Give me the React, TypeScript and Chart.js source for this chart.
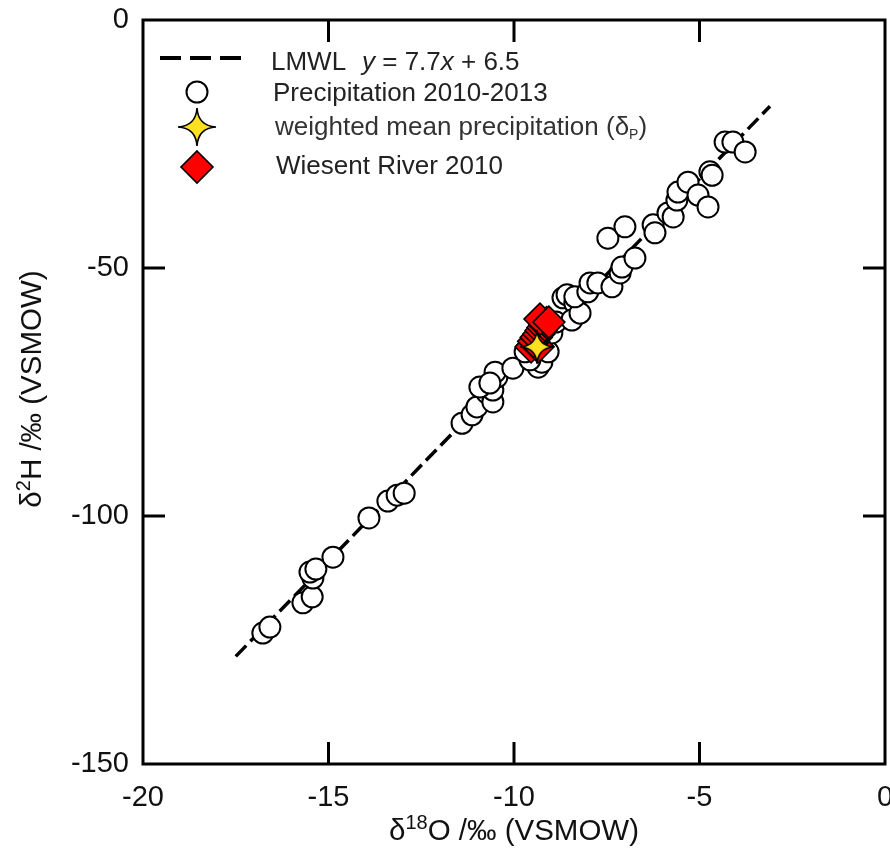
import React, { useEffect, useRef } from 'react';
import { Chart, registerables } from 'chart.js';

Chart.register(...registerables);

const FONT = '"Liberation Sans", Arial, Helvetica, sans-serif';

// Axis ranges / ticks
const xRange = [-20, 0];
const yRange = [-150, 0];
const xStep = 5;
const yStep = 50;

// LMWL  y = 7.7x + 6.5 (end points)
const lmwlX = [-17.5, -3.1];
const lmwlY = [-128.3, -17.4];

// Precipitation 2010-2013
const precipX = [
  -16.77, -16.58, -15.69, -15.44, -15.42, -15.5, -15.34, -14.88, -13.91, -13.4,
  -13.15, -12.96, -11.4, -11.13, -11.0, -10.73, -10.57, -10.57, -10.46, -10.51,
  -10.92, -10.65, -10.03, -9.35, -9.25, -9.57, -9.08, -8.98, -8.87, -8.68,
  -8.57, -8.36, -8.44, -8.22, -8.36, -8.01, -7.95, -7.74, -7.36, -7.14,
  -7.09, -6.74, -7.47, -7.01, -6.25, -6.2, -5.85, -5.71, -5.61, -5.58,
  -5.31, -5.04, -4.77, -4.72, -4.66, -4.31, -4.1, -3.77, -9.16, -9.7,
];
const precipY = [
  -123.6, -122.4, -117.5, -116.3, -112.5, -111.3, -110.7, -108.3, -100.4, -97.0,
  -95.8, -95.4, -81.3, -79.6, -78.0, -75.2, -77.0, -74.6, -72.0, -71.0,
  -74.0, -73.2, -70.2, -70.0, -69.0, -68.5, -66.9, -63.1, -60.9, -56.0,
  -55.4, -57.1, -60.5, -59.1, -55.8, -54.8, -53.0, -53.0, -53.8, -51.0,
  -49.8, -48.0, -44.0, -41.7, -41.3, -42.9, -38.9, -39.7, -36.3, -34.7,
  -32.7, -35.3, -37.7, -30.6, -31.3, -24.6, -24.6, -26.6, -60.5, -66.9,
];

// Wiesent River 2010
const riverX = [-9.54, -9.35, -9.47, -9.4, -9.33, -9.27, -9.22, -9.17, -9.12, -9.3, -9.06];
const riverY = [-65.9, -65.9, -64.8, -64.0, -63.3, -62.6, -62.0, -61.5, -61.0, -60.3, -60.9];

// weighted mean precipitation
const meanX = [-9.38];
const meanY = [-65.9];

function makeStar(size: number): HTMLCanvasElement {
  const c = document.createElement('canvas');
  c.width = size + 4;
  c.height = size + 4;
  const ctx = c.getContext('2d')!;
  const cx = c.width / 2;
  const cy = c.height / 2;
  const R = size / 2;
  const k = 0.06 * R;
  const tips = [
    [cx, cy - R],
    [cx + R, cy],
    [cx, cy + R],
    [cx - R, cy],
  ];
  const ctrl = [
    [cx + k, cy - k],
    [cx + k, cy + k],
    [cx - k, cy + k],
    [cx - k, cy - k],
  ];
  ctx.beginPath();
  ctx.moveTo(tips[0][0], tips[0][1]);
  for (let i = 0; i < 4; i++) {
    const n = tips[(i + 1) % 4];
    ctx.quadraticCurveTo(ctrl[i][0], ctrl[i][1], n[0], n[1]);
  }
  ctx.closePath();
  ctx.fillStyle = '#FFE11F';
  ctx.fill();
  ctx.lineWidth = 1.6;
  ctx.strokeStyle = '#000';
  ctx.stroke();
  return c;
}

type Seg = { t: string; size: number; dy?: number; italic?: boolean };

function drawSegs(ctx: CanvasRenderingContext2D, segs: Seg[], x: number, y: number, align: 'left' | 'center') {
  const widths = segs.map((s) => {
    ctx.font = `${s.italic ? 'italic ' : ''}${s.size}px ${FONT}`;
    return ctx.measureText(s.t).width;
  });
  const total = widths.reduce((a, b) => a + b, 0);
  let cx = align === 'center' ? x - total / 2 : x;
  ctx.textAlign = 'left';
  ctx.textBaseline = 'alphabetic';
  segs.forEach((s, i) => {
    ctx.font = `${s.italic ? 'italic ' : ''}${s.size}px ${FONT}`;
    ctx.fillText(s.t, cx, y + (s.dy || 0));
    cx += widths[i];
  });
}

export default function App() {
  const ref = useRef<HTMLCanvasElement | null>(null);

  useEffect(() => {
    if (!ref.current) return;
    const starPlot = makeStar(34);
    const starLegend = makeStar(38);

    const decorPlugin = {
      id: 'decor',
      afterDraw(chart: any) {
        const ctx: CanvasRenderingContext2D = chart.ctx;
        const { left, right, top, bottom } = chart.chartArea;
        const xs = chart.scales.x;
        const ys = chart.scales.y;
        ctx.save();
        // frame
        ctx.strokeStyle = '#000';
        ctx.lineWidth = 3;
        ctx.setLineDash([]);
        ctx.strokeRect(left, top, right - left, bottom - top);
        // inward ticks on all four sides
        const tl = 22;
        ctx.beginPath();
        xs.ticks.forEach((t: any) => {
          if (t.value <= xRange[0] || t.value >= xRange[1]) return;
          const px = xs.getPixelForValue(t.value);
          ctx.moveTo(px, bottom);
          ctx.lineTo(px, bottom - tl);
          ctx.moveTo(px, top);
          ctx.lineTo(px, top + tl);
        });
        ys.ticks.forEach((t: any) => {
          if (t.value <= yRange[0] || t.value >= yRange[1]) return;
          const py = ys.getPixelForValue(t.value);
          ctx.moveTo(left, py);
          ctx.lineTo(left + tl, py);
          ctx.moveTo(right, py);
          ctx.lineTo(right - tl, py);
        });
        ctx.stroke();

        // axis titles
        ctx.fillStyle = '#111';
        drawSegs(
          ctx,
          [
            { t: 'δ', size: 29.5 },
            { t: '18', size: 20, dy: -11 },
            { t: 'O /‰ (VSMOW)', size: 29.5 },
          ],
          (left + right) / 2,
          840,
          'center'
        );
        ctx.save();
        ctx.translate(41, (top + bottom) / 2 - 3);
        ctx.rotate(-Math.PI / 2);
        drawSegs(
          ctx,
          [
            { t: 'δ', size: 29.5 },
            { t: '2', size: 20, dy: -11 },
            { t: 'H /‰ (VSMOW)', size: 29.5 },
          ],
          0,
          0,
          'center'
        );
        ctx.restore();

        // legend
        ctx.strokeStyle = '#000';
        ctx.lineWidth = 4;
        ctx.setLineDash([21, 9]);
        ctx.beginPath();
        ctx.moveTo(160, 58);
        ctx.lineTo(242, 58);
        ctx.stroke();
        ctx.setLineDash([]);

        ctx.beginPath();
        ctx.arc(197, 92, 10.5, 0, Math.PI * 2);
        ctx.fillStyle = '#fff';
        ctx.fill();
        ctx.lineWidth = 2;
        ctx.stroke();

        ctx.drawImage(starLegend, 197 - starLegend.width / 2, 127 - starLegend.height / 2);

        ctx.beginPath();
        ctx.moveTo(197, 151);
        ctx.lineTo(213, 167);
        ctx.lineTo(197, 183);
        ctx.lineTo(181, 167);
        ctx.closePath();
        ctx.fillStyle = '#FF0000';
        ctx.fill();
        ctx.lineWidth = 1.6;
        ctx.stroke();

        ctx.fillStyle = '#222';
        drawSegs(ctx, [{ t: 'LMWL', size: 26 }], 271, 70, 'left');
        drawSegs(
          ctx,
          [
            { t: 'y', size: 26, italic: true },
            { t: ' = 7.7', size: 26 },
            { t: 'x', size: 26, italic: true },
            { t: ' + 6.5', size: 26 },
          ],
          362,
          70,
          'left'
        );
        drawSegs(ctx, [{ t: 'Precipitation 2010-2013', size: 26 }], 273, 101, 'left');
        ctx.fillStyle = '#333';
        drawSegs(
          ctx,
          [
            { t: 'weighted mean precipitation (δ', size: 26 },
            { t: 'P', size: 14, dy: 4 },
            { t: ')', size: 26 },
          ],
          275,
          135,
          'left'
        );
        ctx.fillStyle = '#222';
        drawSegs(ctx, [{ t: 'Wiesent River 2010', size: 26 }], 276, 174, 'left');
        ctx.restore();
      },
    };

    const chart = new Chart(ref.current, {
      type: 'scatter',
      data: {
        datasets: [
          {
            label: 'weighted mean precipitation',
            data: meanX.map((x, i) => ({ x, y: meanY[i] })),
            pointStyle: starPlot as any,
            pointRadius: 17,
            order: 0,
          },
          {
            label: 'Wiesent River 2010',
            data: riverX.map((x, i) => ({ x, y: riverY[i] })),
            pointStyle: 'rectRot',
            pointRadius: 16,
            backgroundColor: '#FF0000',
            borderColor: '#000',
            borderWidth: 1.6,
            order: 1,
          },
          {
            label: 'Precipitation 2010-2013',
            data: precipX.map((x, i) => ({ x, y: precipY[i] })),
            pointStyle: 'circle',
            pointRadius: 10.5,
            backgroundColor: '#fff',
            borderColor: '#000',
            borderWidth: 2,
            order: 2,
          },
          {
            label: 'LMWL',
            data: lmwlX.map((x, i) => ({ x, y: lmwlY[i] })),
            showLine: true,
            borderColor: '#000',
            borderWidth: 3.5,
            borderDash: [15, 6],
            pointRadius: 0,
            order: 3,
          } as any,
        ],
      },
      options: {
        responsive: false,
        animation: false,
        events: [],
        layout: { autoPadding: false, padding: { top: 20, right: 5, left: 0, bottom: 0 } },
        plugins: {
          legend: { display: false },
          tooltip: { enabled: false },
          title: { display: false },
        },
        scales: {
          x: {
            type: 'linear',
            min: xRange[0],
            max: xRange[1],
            grid: { display: false, drawTicks: false },
            border: { display: false },
            ticks: {
              stepSize: xStep,
              padding: 17,
              color: '#111',
              font: { family: FONT, size: 29 },
              maxRotation: 0,
            },
            afterFit: (s: any) => {
              s.height = 85;
              s.paddingLeft = 0;
              s.paddingRight = 0;
            },
          },
          y: {
            type: 'linear',
            min: yRange[0],
            max: yRange[1],
            grid: { display: false, drawTicks: false },
            border: { display: false },
            ticks: {
              stepSize: yStep,
              padding: 14,
              color: '#111',
              font: { family: FONT, size: 29 },
            },
            afterFit: (s: any) => {
              s.width = 143;
              s.paddingTop = 0;
              s.paddingBottom = 0;
            },
          },
        },
      },
      plugins: [decorPlugin],
    });
    return () => chart.destroy();
  }, []);

  return (
    <div style={{ position: 'fixed', left: 0, top: 0, width: 890, height: 849, background: '#fff' }}>
      <canvas ref={ref} width={890} height={849} style={{ display: 'block' }} />
    </div>
  );
}
